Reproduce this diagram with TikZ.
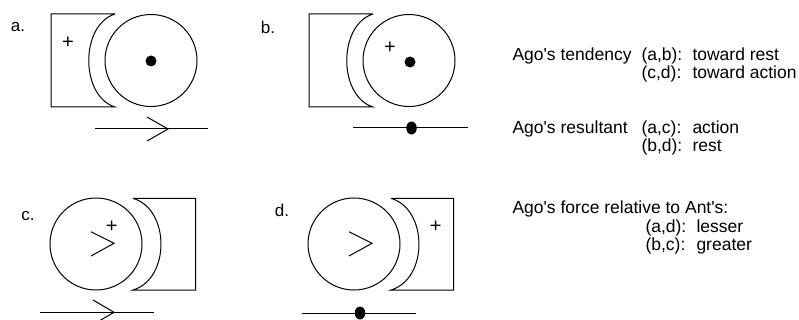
\documentclass[tikz,border=0pt]{standalone}
\usepackage{fontspec}
\setmainfont{Liberation Sans}
\newfontfamily\helv{Liberation Sans}
\usetikzlibrary{shapes.geometric}
\begin{document}
\begin{tikzpicture}[x=1pt,y=-1pt,line width=1pt,
  wheel/.style={draw,circle,minimum size=92pt,inner sep=0pt,line width=1pt},
  hubdot/.style={fill,circle,minimum size=11pt,inner sep=0pt},
  beaddot/.style={fill,ellipse,minimum width=10.5pt,minimum height=13pt,inner sep=0pt},
  plussign/.style={inner sep=0pt,font=\helv\fontsize{20}{20}\selectfont},
  panellabel/.style={inner sep=0pt,font=\helv\fontsize{17}{17}\selectfont},
  txt/.style={anchor=base west,inner sep=0pt,font=\helv\fontsize{17.5}{17.5}\selectfont},
  chev/.style={line width=1pt}]
\useasboundingbox (0,0) rectangle (799,320);
\clip (0,0) rectangle (799,320);

% ---- panel a ----
\node[panellabel] (la) at (18,27) {a.};
\draw (115,14) -- (51,14) -- (51,107) -- (115,107) .. controls (80,96) and (80,25) .. (115,14);
\node[wheel] (wa) at (151,60.5) {};
\node[hubdot] (da) at (151,61) {};
\node[plussign] (pa) at (68,43) {+};
\coordinate (a1) at (95,129);
\coordinate (a2) at (208,129);
\coordinate (at) at (168,129);
\draw (a1) -- (a2);
\draw[chev] (147,117) -- (at) -- (147,141);

% ---- panel b ----
\node[panellabel] (lb) at (268,27) {b.};
\draw (373,14) -- (309,14) -- (309,107) -- (373,107) .. controls (338,96) and (338,25) .. (373,14);
\node[wheel] (wb) at (409,60.5) {};
\node[hubdot] (db) at (410,62) {};
\node[plussign] (pb) at (390,48) {+};
\coordinate (b1) at (353,128);
\coordinate (b2) at (468,128);
\draw (b1) -- (b2);
\node[beaddot] (eb) at (411.5,128) {};

% ---- panel c ----
\node[panellabel] (lc) at (28,216) {c.};
\node[wheel] (wc) at (96,244) {};
\draw (133,198.3) -- (195.7,198.3) -- (195.7,290) -- (133,290) .. controls (170.3,279) and (170.3,209.3) .. (133,198.3);
\draw[chev] (91,231.7) -- (114,243.3) -- (91,256);
\node[plussign] (pc) at (111.7,226.7) {+};
\coordinate (c1) at (40,312.3);
\coordinate (c2) at (154,312.3);
\coordinate (ct) at (114,312.3);
\draw (c1) -- (c2);
\draw[chev] (93,300) -- (ct) -- (93,324.6);

% ---- panel d ----
\node[panellabel] (ld) at (282,210) {d.};
\node[wheel] (wd) at (354,244) {};
\draw (391,198.3) -- (453.7,198.3) -- (453.7,290) -- (391,290) .. controls (428.3,279) and (428.3,209.3) .. (391,198.3);
\draw[chev] (349,231.7) -- (372,243.3) -- (349,256);
\node[plussign] (pd) at (435.7,226.7) {+};
\coordinate (d1) at (301.7,313);
\coordinate (d2) at (415.7,313);
\draw (d1) -- (d2);
\node[beaddot] (ed) at (360,313) {};

% ---- text ----
\node[txt] (t1) at (512,61) {Ago's tendency};
\node[txt] (t1a) at (641,61) {(a,b):};
\node[txt] (t1b) at (692,61) {toward rest};
\node[txt] (t2a) at (641,79) {(c,d):};
\node[txt] (t2b) at (692,79) {toward action};
\node[txt] (t3) at (512,134) {Ago's resultant};
\node[txt] (t3a) at (641,134) {(a,c):};
\node[txt] (t3b) at (692,134) {action};
\node[txt] (t4a) at (641,152) {(b,d):};
\node[txt] (t4b) at (692,152) {rest};
\node[txt] (t5) at (512,214) {Ago's force relative to Ant's:};
\node[txt] (t6a) at (645,232) {(a,d):};
\node[txt] (t6b) at (696,232) {lesser};
\node[txt] (t7a) at (645,250) {(b,c):};
\node[txt] (t7b) at (696,250) {greater};
\end{tikzpicture}
\end{document}
